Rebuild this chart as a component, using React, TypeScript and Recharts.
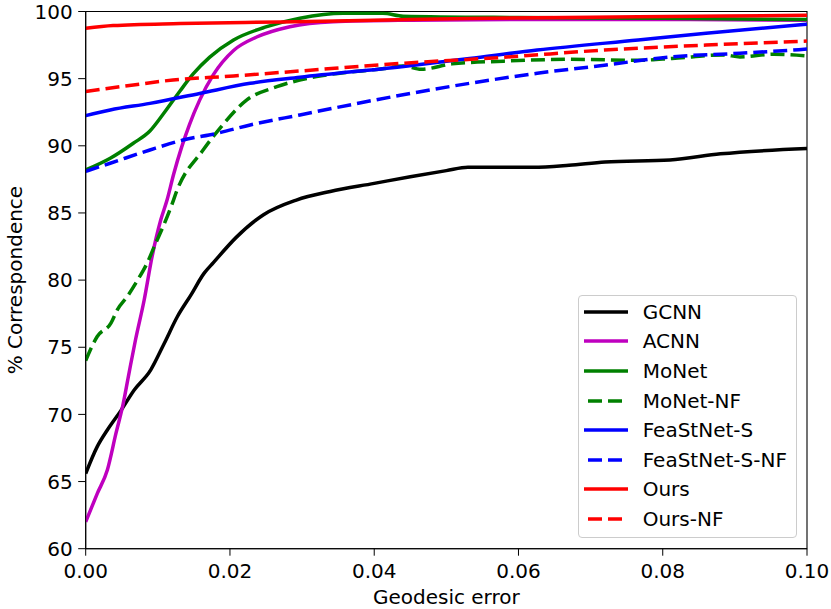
import { LineChart, Line, XAxis, YAxis, ReferenceArea } from 'recharts';

// geodesic error thresholds (x) and % correspondence (y) per method
const gcnnX = [0, 0.0016, 0.003, 0.0049, 0.0067, 0.009, 0.0109, 0.0127, 0.0146, 0.0164, 0.0177, 0.0209, 0.0246, 0.0292, 0.0339, 0.04, 0.045, 0.05, 0.053, 0.062, 0.067, 0.072, 0.081, 0.088, 0.1];
const gcnnY = [65.6, 67.6, 68.84, 70.3, 71.8, 73.3, 75.3, 77.27, 78.9, 80.5, 81.3, 83.2, 84.85, 85.96, 86.6, 87.2, 87.7, 88.15, 88.4, 88.4, 88.55, 88.8, 88.95, 89.4, 89.8];

const acnnX = [0, 0.0016, 0.003, 0.0042, 0.0052, 0.006, 0.0069, 0.0081, 0.0092, 0.0104, 0.0113, 0.0122, 0.0133, 0.0144, 0.0158, 0.0177, 0.0205, 0.0237, 0.0283, 0.0343, 0.045, 0.06, 0.08, 0.1];
const acnnY = [62.0, 64.1, 65.86, 68.6, 70.8, 73.06, 75.54, 78.5, 81.74, 84.47, 86.0, 87.9, 89.9, 91.6, 93.4, 95.3, 97.1, 98.1, 98.87, 99.24, 99.35, 99.4, 99.4, 99.35];

const monetX = [0, 0.0034, 0.0066, 0.0089, 0.0108, 0.0131, 0.0149, 0.0172, 0.0205, 0.0251, 0.0297, 0.0357, 0.0412, 0.044, 0.06, 0.08, 0.1];
const monetY = [88.2, 89.07, 90.19, 91.1, 92.4, 94.1, 95.35, 96.6, 97.88, 98.87, 99.5, 99.87, 99.87, 99.65, 99.55, 99.5, 99.4];

const monetNfX = [0, 0.0016, 0.0035, 0.0044, 0.0058, 0.0072, 0.0085, 0.0097, 0.0109, 0.012, 0.0126, 0.0163, 0.0186, 0.0223, 0.0265, 0.032, 0.0367, 0.0414, 0.044, 0.0465, 0.0508, 0.0579, 0.0672, 0.0766, 0.0813, 0.0884, 0.0907, 0.0954, 0.1];
const monetNfY = [74.0, 75.8, 76.8, 77.8, 78.8, 80.0, 81.25, 82.74, 84.2, 85.7, 86.6, 89.7, 91.3, 93.4, 94.4, 95.15, 95.5, 95.75, 95.95, 95.7, 96.1, 96.3, 96.44, 96.37, 96.5, 96.77, 96.62, 96.82, 96.7];

const feastX = [0, 0.0034, 0.0089, 0.0158, 0.0228, 0.0297, 0.0438, 0.0532, 0.0626, 0.0766, 0.086, 0.1];
const feastY = [92.25, 92.67, 93.16, 93.9, 94.65, 95.1, 95.89, 96.5, 97.13, 97.88, 98.38, 99.05];

const feastNfX = [0, 0.0034, 0.0089, 0.0135, 0.0182, 0.0228, 0.0297, 0.0438, 0.0532, 0.0626, 0.0719, 0.0813, 0.0907, 0.1];
const feastNfY = [88.1, 88.7, 89.69, 90.43, 90.93, 91.55, 92.3, 93.78, 94.65, 95.4, 96.0, 96.63, 96.89, 97.2];

const oursX = [0, 0.0038, 0.0131, 0.027, 0.04, 0.053, 0.0766, 0.1];
const oursY = [98.75, 98.95, 99.1, 99.22, 99.35, 99.48, 99.6, 99.72];

const oursNfX = [0, 0.0066, 0.0121, 0.0205, 0.0297, 0.0438, 0.0579, 0.0719, 0.086, 0.1];
const oursNfY = [94.05, 94.53, 94.9, 95.2, 95.57, 96.14, 96.59, 97.13, 97.5, 97.8];

const xTicks = [0, 0.02, 0.04, 0.06, 0.08, 0.1];
const yTicks = [60, 65, 70, 75, 80, 85, 90, 95, 100];

const zip = (xs: number[], ys: number[]) => xs.map((x, i) => ({ x, y: ys[i] }));

const series = [
    { name: 'GCNN', data: zip(gcnnX, gcnnY), color: '#000000', dashed: false },
    { name: 'ACNN', data: zip(acnnX, acnnY), color: '#bf00bf', dashed: false },
    { name: 'MoNet', data: zip(monetX, monetY), color: '#008000', dashed: false },
    { name: 'MoNet-NF', data: zip(monetNfX, monetNfY), color: '#008000', dashed: true },
    { name: 'FeaStNet-S', data: zip(feastX, feastY), color: '#0000ff', dashed: false },
    { name: 'FeaStNet-S-NF', data: zip(feastNfX, feastNfY), color: '#0000ff', dashed: true },
    { name: 'Ours', data: zip(oursX, oursY), color: '#ff0000', dashed: false },
    { name: 'Ours-NF', data: zip(oursNfX, oursNfY), color: '#ff0000', dashed: true },
];

const DASH = '14 6';
const FONT = '"DejaVu Sans", sans-serif';

export default function App() {
    return (
        <div style={{ position: 'relative', width: 831, height: 609, fontFamily: FONT, background: '#fff' }}>
            <style>{'body{margin:0}'}</style>
            <LineChart width={831} height={609} margin={{ top: 11.5, right: 24, bottom: 20.3, left: 25.7 }}>
                <XAxis
                    dataKey="x"
                    type="number"
                    domain={[0, 0.1]}
                    ticks={xTicks}
                    allowDataOverflow
                    height={40}
                    tickFormatter={(v: number) => v.toFixed(2)}
                    stroke="#000"
                    tickSize={7}
                    tickMargin={8.5}
                    tick={{ fill: '#000', fontSize: 20, fontFamily: FONT }}
                    label={{ value: 'Geodesic error', position: 'bottom', offset: 1, fill: '#000', fontSize: 20, fontFamily: FONT }}
                />
                <YAxis
                    dataKey="y"
                    type="number"
                    domain={[60, 100]}
                    ticks={yTicks}
                    allowDataOverflow
                    width={60}
                    stroke="#000"
                    tickSize={7.5}
                    tickMargin={5.5}
                    tick={{ fill: '#000', fontSize: 20, fontFamily: FONT }}
                    label={{ value: '% Correspondence', angle: -90, position: 'center', dx: -40.7, fill: '#000', fontSize: 20, fontFamily: FONT }}
                />
                <ReferenceArea x1={0} x2={0.1} y1={60} y2={100} fill="none" stroke="#000" strokeWidth={1.1} fillOpacity={0} ifOverflow="visible" />
                {series.map((s) => (
                    <Line
                        key={s.name}
                        data={s.data}
                        dataKey="y"
                        name={s.name}
                        type="monotone"
                        stroke={s.color}
                        strokeWidth={3.5}
                        strokeDasharray={s.dashed ? DASH : undefined}
                        dot={false}
                        activeDot={false}
                        isAnimationActive={false}
                    />
                ))}
            </LineChart>
            <div
                style={{
                    position: 'absolute',
                    left: 577.7,
                    top: 295,
                    width: 219,
                    height: 243,
                    boxSizing: 'border-box',
                    border: '1px solid #cccccc',
                    borderRadius: 4,
                    background: 'rgba(255,255,255,0.8)',
                    paddingTop: 1,
                }}
            >
                {series.map((s) => (
                    <div key={s.name} style={{ display: 'flex', alignItems: 'center', height: 29.6 }}>
                        <svg width={44} height={8} style={{ marginLeft: 5.3, marginRight: 14.7, display: 'block' }}>
                            <line
                                x1={0}
                                y1={4}
                                x2={44}
                                y2={4}
                                stroke={s.color}
                                strokeWidth={3.5}
                                strokeDasharray={s.dashed ? DASH : undefined}
                                transform={s.dashed ? 'translate(4 0)' : undefined}
                            />
                        </svg>
                        <span style={{ fontSize: 20, color: '#000', lineHeight: 1, whiteSpace: 'nowrap' }}>{s.name}</span>
                    </div>
                ))}
            </div>
        </div>
    );
}
